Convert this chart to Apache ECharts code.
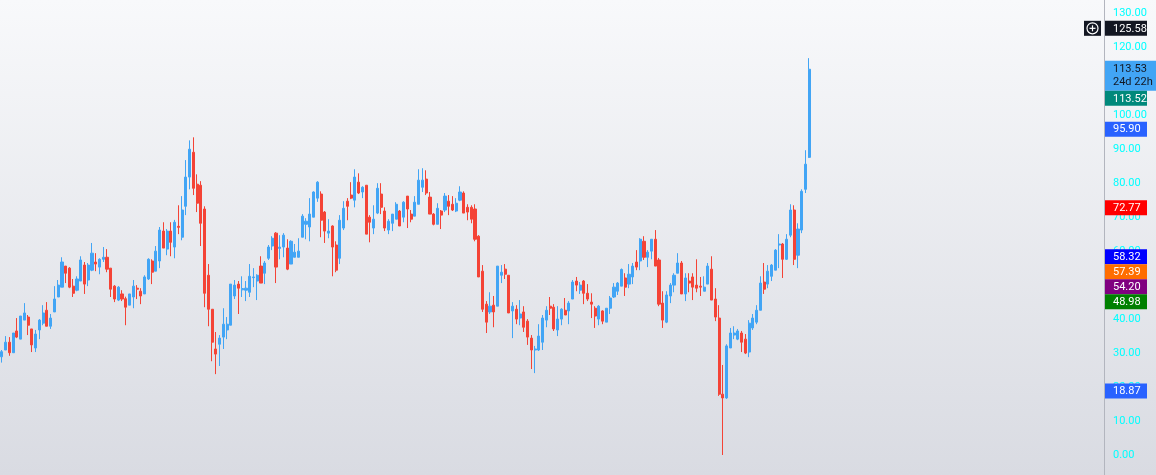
<!DOCTYPE html>
<html><head><meta charset="utf-8">
<script src="https://cdn.jsdelivr.net/npm/echarts@6/dist/echarts.min.js"></script>
<style>
html,body{margin:0;padding:0;overflow:hidden;}
#c{width:1156px;height:475px;background:linear-gradient(to bottom,#f8f9fb 0%,#d9dbe2 100%);}
</style>
</head><body><div id="c"></div>
<script>
// ---- data ----
const opens = [
28.9,30.9,33.2,30.1,36.5,34.1,39.7,40.6,37.1,31.5,
36.8,38.8,42.6,37.9,42.1,46.5,49.4,55.6,55.0,49.7,
48.5,51.2,55.9,51.5,54.4,56.8,55.3,57.6,58.2,55.0,
49.7,45.6,47.4,46.0,44.1,46.5,49.1,48.2,47.4,51.8,
57.1,54.1,57.1,65.9,60.6,65.9,61.2,67.3,64.1,73.2,
81.8,89.1,79.7,79.4,72.4,52.9,42.9,31.2,32.6,34.7,
36.8,38.2,46.8,50.3,48.6,48.5,47.9,52.2,51.2,55.6,
53.5,57.9,61.5,65.3,60.8,61.2,60.9,56.2,58.2,58.2,
64.1,67.9,67.1,70.0,75.6,76.8,71.5,65.3,67.4,61.8,
57.9,66.8,74.7,76.5,75.0,80.3,77.4,79.4,70.0,66.8,
71.2,76.8,71.8,66.2,68.2,69.4,71.8,70.0,76.2,70.9,
70.3,73.8,78.8,81.2,75.9,70.9,67.9,71.8,72.1,74.7,
73.8,71.8,75.0,77.1,72.9,72.9,72.4,64.4,54.1,44.4,
42.1,44.1,43.8,52.9,54.7,52.9,42.4,42.9,40.3,42.1,
39.4,34.4,30.9,30.9,33.2,39.7,43.8,43.5,36.8,40.0,
42.6,42.4,45.9,51.2,48.5,51.2,47.6,45.0,43.2,40.0,
42.4,39.1,43.2,46.5,48.2,49.7,52.1,50.3,52.4,56.8,
57.1,62.9,58.2,60.0,63.5,57.4,44.7,39.1,46.8,50.0,
53.5,56.5,47.4,51.2,52.4,50.0,49.7,48.2,50.3,54.7,
45.9,40.3,17.9,16.8,31.5,35.3,34.1,35.9,34.1,30.3,
37.4,39.1,42.6,50.9,50.3,52.6,54.4,61.8,62.1,57.6,
64.7,72.1,58.8,66.2,78.2,87.6];
const closes = [
30.4,33.2,30.1,35.9,34.7,40.9,41.8,38.2,32.4,35.6,
39.7,41.8,37.9,40.3,45.9,50.0,56.8,53.5,49.4,47.6,
51.8,57.4,50.3,55.9,59.4,56.2,57.6,58.2,54.7,48.8,
45.9,49.4,45.9,43.5,47.4,49.7,48.8,46.8,52.4,57.6,
53.8,60.0,66.2,60.9,65.9,62.6,68.5,67.0,72.1,81.8,
90.0,78.5,74.1,68.2,47.6,42.9,33.2,29.7,34.4,38.5,
38.5,50.3,50.0,49.1,49.0,49.1,52.6,52.4,52.9,50.6,
56.5,61.2,63.8,55.3,61.2,64.7,54.7,62.9,59.7,60.0,
70.3,68.8,70.9,77.4,80.3,69.1,65.9,65.9,61.2,54.4,
69.1,72.6,73.2,75.6,81.8,77.1,78.8,65.0,68.5,69.4,
78.5,72.9,66.8,68.8,70.9,73.8,67.4,74.4,72.4,69.4,
74.4,80.9,80.9,77.1,70.9,67.9,72.6,70.6,76.2,73.2,
72.1,74.1,77.4,71.2,71.5,69.4,63.5,52.4,42.9,39.1,
43.8,42.1,55.6,53.8,53.2,41.8,43.8,40.0,41.5,37.6,
34.7,30.9,31.2,35.0,40.3,42.6,43.2,37.1,40.0,42.9,
41.2,44.7,50.9,50.0,50.0,47.6,45.9,44.4,40.9,43.8,
39.4,43.2,46.2,49.4,50.6,54.6,49.4,53.2,55.6,55.3,
63.5,58.2,59.7,63.5,55.6,44.4,39.7,47.1,50.0,52.9,
56.5,47.4,52.1,50.6,49.4,49.1,49.4,49.4,55.6,45.6,
40.6,17.9,16.8,32.1,35.9,35.9,36.5,33.2,30.0,38.8,
40.3,42.6,50.6,48.8,54.1,55.9,60.3,62.1,57.6,63.5,
72.1,57.6,66.5,77.6,85.6,113.53];
const lows = [
27.2,30.9,29.2,30.1,34.4,34.1,39.7,35.3,30.3,30.3,
34.1,38.2,37.9,37.1,42.1,46.5,49.4,50.6,49.1,46.5,
48.2,51.2,47.4,49.7,54.1,54.1,53.2,56.8,53.8,46.5,
45.0,45.3,45.3,38.2,44.1,43.2,45.9,44.4,47.4,51.5,
50.3,54.1,55.0,60.9,58.8,58.5,57.9,65.0,63.2,70.6,
78.2,76.5,71.5,61.5,43.5,37.9,27.6,23.8,26.2,31.2,
34.1,38.2,45.9,41.5,46.5,45.3,46.5,49.4,45.6,50.6,
50.3,57.4,60.3,50.6,57.6,58.2,54.4,56.2,58.2,58.2,
64.1,63.5,62.9,70.0,74.5,64.1,62.4,63.8,52.6,53.8,
56.2,66.2,69.1,75.3,72.9,76.8,75.6,65.0,62.6,65.0,
70.9,70.9,65.9,65.0,65.9,69.4,67.4,68.5,66.8,68.5,
70.3,73.8,77.4,76.5,70.9,67.6,67.9,66.5,71.5,70.6,
71.8,71.5,74.7,71.2,69.1,68.2,62.9,52.4,42.1,35.9,
41.5,37.6,43.8,50.6,51.8,41.8,34.4,38.5,38.2,36.2,
32.4,25.3,24.1,30.6,30.9,37.6,41.2,36.5,35.0,38.2,
41.2,38.5,45.9,48.2,47.4,44.4,45.3,40.3,37.4,38.2,
38.5,39.1,41.5,46.2,47.1,49.7,46.8,49.1,50.3,54.4,
54.4,57.4,55.3,57.6,55.6,43.8,37.4,38.8,44.7,47.9,
53.5,47.4,45.3,47.9,45.6,47.9,46.8,48.2,50.3,45.6,
39.4,17.4,0.0,16.5,31.5,34.1,33.8,30.3,29.7,28.8,
36.8,38.5,42.6,47.4,49.1,51.2,54.4,55.0,52.1,57.4,
64.1,55.9,55.0,65.3,77.1,87.4];
const highs = [
30.9,35.0,34.7,35.9,40.3,40.9,44.7,41.2,37.1,36.8,
40.0,44.1,45.0,41.5,49.7,51.5,58.2,55.6,55.3,51.8,
52.6,58.5,56.8,56.5,62.4,59.4,57.9,61.2,60.6,55.0,
50.0,49.7,48.5,46.6,47.4,51.5,50.0,49.1,52.9,57.9,
57.6,61.5,67.1,68.5,66.5,68.5,69.2,73.5,76.2,86.8,
92.6,93.5,82.6,80.6,73.2,56.2,42.9,36.2,35.3,43.2,
40.6,50.3,51.5,51.2,52.6,51.2,56.2,55.0,53.2,58.5,
57.1,61.8,64.4,65.6,64.7,65.3,63.5,63.2,62.1,63.8,
70.9,69.7,75.6,77.6,80.6,77.6,71.8,69.4,67.6,62.9,
70.6,74.7,75.6,80.3,84.1,82.9,79.1,79.4,70.6,73.5,
80.0,80.0,72.9,69.4,70.9,74.4,72.1,74.7,76.2,72.1,
76.2,84.1,84.4,83.8,77.4,71.2,74.1,72.1,77.1,76.5,
76.2,75.6,79.1,77.6,73.8,73.5,73.8,64.7,55.9,45.3,
47.9,46.8,55.6,55.9,56.2,52.9,45.0,44.1,45.6,43.8,
40.0,35.3,32.1,38.5,41.2,43.8,46.5,44.4,43.8,43.2,
46.2,45.3,51.5,52.4,50.9,51.5,50.3,47.6,43.8,44.1,
42.6,43.2,46.8,50.6,50.9,54.9,53.5,56.2,56.5,60.3,
63.8,64.4,60.3,63.5,66.2,58.0,48.2,48.2,50.6,53.5,
59.4,57.1,53.5,53.5,53.5,57.6,52.4,52.6,56.5,58.5,
49.1,44.1,26.5,32.6,37.4,37.9,37.1,36.5,35.6,39.7,
41.5,44.1,52.6,56.5,55.9,56.2,60.6,65.0,62.4,65.0,
73.8,73.5,68.2,78.2,89.7,116.8];
// price scale labels (every 10 from 0 to 130)
const yMin = 0, yMax = 130, yStep = 10;
// right-hand price tags
const tagValues = [125.58, 113.53, 113.52, 95.90, 72.77, 58.32, 57.39, 54.20, 48.98, 18.87];
const tagSubtexts = ['', '24d 22h', '', '', '', '', '', '', '', ''];

// ---- styles ----
const tagFill = ['#131722','#42a5f5','#00897b','#2962ff','#ff0000','#0000ff','#ff6d00','#800080','#008000','#2962ff'];
const tagInk  = ['#ffffff','#131722','#ffffff','#ffffff','#ffffff','#ffffff','#ffffff','#ffffff','#ffffff','#ffffff'];
const UP = '#42a5f5', DOWN = '#f44336';
const TOTAL_SLOTS = 294;   // bar slots incl. empty future space
const GRID_RIGHT = 52, GRID_LEFT = -1, GRID_TOP = 13.3, GRID_BOTTOM = 20;
const FONT = '11px Roboto, Liberation Sans, sans-serif';

const cats = [];
for (let i = 0; i < TOTAL_SLOTS; i++) cats.push(String(i));
const ohlc = opens.map((o, i) => [o, closes[i], lows[i], highs[i]]);

const chart = echarts.init(document.getElementById('c'), null, {renderer: 'canvas'});
chart.setOption({
  backgroundColor: 'transparent',
  animation: false,
  grid: {left: GRID_LEFT, right: GRID_RIGHT, top: GRID_TOP, bottom: GRID_BOTTOM, containLabel: false},
  xAxis: {type: 'category', data: cats, boundaryGap: true, show: false},
  yAxis: {
    type: 'value', position: 'right', min: yMin, max: yMax, interval: yStep, scale: false,
    axisLine: {show: false},
    axisTick: {show: false},
    splitLine: {show: false},
    axisLabel: {margin: 9, color: '#00ffff', fontSize: 11, fontFamily: 'Roboto, Liberation Sans, sans-serif',
      formatter: v => v.toFixed(2)}
  },
  series: [{
    type: 'candlestick',
    data: ohlc,
    barWidth: 2.6,
    itemStyle: {color: UP, color0: DOWN, borderColor: UP, borderColor0: DOWN, borderWidth: 1}
  }]
});

function drawTags() {
  const W = chart.getWidth(), H = chart.getHeight();
  const axisX = W - GRID_RIGHT;
  const els = [];
  // full-height price-scale border
  els.push({type: 'line', z: 90, shape: {x1: axisX + 0.5, y1: 0, x2: axisX + 0.5, y2: H},
    style: {stroke: '#b2b5be', lineWidth: 1}});
  let prevBottom = -Infinity;
  tagValues.forEach((v, i) => {
    const y = chart.convertToPixel({yAxisIndex: 0}, v);
    const two = !!tagSubtexts[i];
    const h = two ? 30 : 15;
    let top = two ? y - 8.5 : y - 7.5;
    if (top < prevBottom) top = prevBottom;
    prevBottom = top + h;
    els.push({type: 'rect', z: 100, shape: {x: axisX + 1, y: top, width: two ? 51 : 42, height: h},
      style: {fill: tagFill[i]}});
    els.push({type: 'text', z: 101, x: axisX + 9, y: top + 8,
      style: {text: v.toFixed(2), fill: tagInk[i], font: FONT, verticalAlign: 'middle', align: 'left'}});
    if (two) {
      els.push({type: 'text', z: 101, x: axisX + 9, y: top + 21,
        style: {text: tagSubtexts[i], fill: tagInk[i], font: FONT, verticalAlign: 'middle', align: 'left'}});
    }
    if (i === 0) {
      // crosshair "+" button
      const cx = axisX - 11.5, cy = top + 7.5;
      els.push({type: 'rect', z: 100, shape: {x: axisX - 20, y: top, width: 17, height: h}, style: {fill: tagFill[i]}});
      els.push({type: 'circle', z: 101, shape: {cx: cx, cy: cy, r: 5.5}, style: {fill: 'none', stroke: '#ffffff', lineWidth: 1.2}});
      els.push({type: 'line', z: 101, shape: {x1: cx - 3, y1: cy, x2: cx + 3, y2: cy}, style: {stroke: '#ffffff', lineWidth: 1.2}});
      els.push({type: 'line', z: 101, shape: {x1: cx, y1: cy - 3, x2: cx, y2: cy + 3}, style: {stroke: '#ffffff', lineWidth: 1.2}});
    }
  });
  chart.setOption({graphic: els});
}
drawTags();
</script></body></html>
